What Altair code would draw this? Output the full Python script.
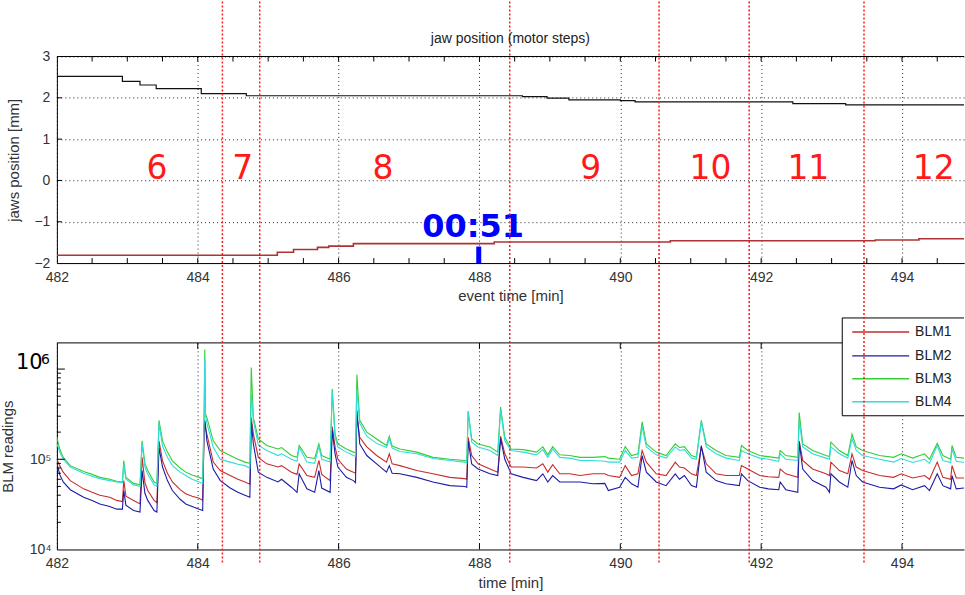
import altair as alt
import pandas as pd

# ---------------- data ----------------
X_DOMAIN = [482, 494.88]
x_ticks = [482, 484, 486, 488, 490, 492, 494]

# jaw positions (top panel)
upper_t = [482.0, 482.93, 483.18, 483.41, 484.05, 484.69, 488.61, 488.96, 489.27, 490.0, 490.21, 492.45, 493.2, 494.88]
upper_v = [2.52, 2.40, 2.31, 2.22, 2.10, 2.05, 2.03, 1.99, 1.95, 1.93, 1.90, 1.86, 1.83, 1.83]
lower_t = [482.0, 485.13, 485.36, 485.70, 485.86, 486.21, 488.21, 490.71, 493.62, 494.24, 494.88]
lower_v = [-1.81, -1.74, -1.67, -1.62, -1.59, -1.53, -1.49, -1.46, -1.44, -1.41, -1.41]

# step boundaries and labels
boundaries = [484.35, 484.88, 488.43, 490.55, 491.83, 493.46]
step_labels = ["6", "7", "8", "9", "10", "11", "12"]
step_label_t = [483.42, 484.64, 486.63, 489.58, 491.28, 492.67, 494.45]

# BLM readings (bottom panel)
blm_t = [
    482.00, 482.04, 482.09, 482.19, 482.38, 482.50, 482.61, 482.75, 482.85, 482.93,
    482.95, 482.98, 483.09, 483.18, 483.21, 483.25, 483.29, 483.38, 483.42, 483.45,
    483.50, 483.57, 483.64, 483.75, 483.83, 483.92, 484.02, 484.07, 484.09, 484.10,
    484.11, 484.13, 484.22, 484.32, 484.46, 484.57, 484.67, 484.74, 484.76, 484.79,
    484.86, 484.98, 485.14, 485.19, 485.33, 485.41, 485.44, 485.55, 485.66, 485.72,
    485.76, 485.88, 485.91, 485.95, 485.99, 486.11, 486.21, 486.24, 486.26, 486.30,
    486.40, 486.54, 486.68, 486.72, 486.76, 486.87, 487.11, 487.34, 487.58, 487.79,
    487.82, 487.84, 487.89, 487.98, 488.15, 488.26, 488.30, 488.36, 488.45, 488.62,
    488.81, 488.90, 488.97, 489.04, 489.14, 489.28, 489.43, 489.61, 489.78, 489.83,
    489.99, 490.07, 490.16, 490.25, 490.31, 490.37, 490.51, 490.65, 490.78, 490.84,
    490.91, 491.01, 491.08, 491.15, 491.22, 491.36, 491.50, 491.69, 491.72, 491.81,
    491.98, 492.10, 492.25, 492.27, 492.35, 492.52, 492.54, 492.59, 492.73, 492.92,
    492.97, 492.99, 493.11, 493.23, 493.29, 493.35, 493.44, 493.68, 493.88, 493.99,
    494.15, 494.32, 494.39, 494.50, 494.58, 494.69, 494.71, 494.77, 494.88,
]
blm1 = [  # red
    1.0e5, 8.5e4, 7.2e4, 5.8e4, 4.7e4, 4.3e4, 4.0e4, 3.8e4, 3.5e4, 3.4e4,
    5.8e4, 3.9e4, 3.5e4, 3.2e4, 1.05e5, 5.5e4, 4.5e4, 3.5e4, 3.3e4, 1.6e5,
    9.6e4, 7.0e4, 5.6e4, 4.6e4, 4.15e4, 3.9e4, 3.7e4, 3.5e4, 2.0e5, 2.5e5,
    2.2e5, 1.9e5, 9.3e4, 7.5e4, 6.6e4, 6.0e4, 5.6e4, 5.3e4, 2.9e5, 1.9e5,
    1.05e5, 8.9e4, 8.2e4, 8.5e4, 7.2e4, 6.8e4, 8.9e4, 6.6e4, 6.3e4, 9.7e4,
    6.8e4, 5.8e4, 2.3e5, 1.37e5, 1.0e5, 7.8e4, 7.2e4, 7.0e4, 3.0e5, 1.75e5,
    1.37e5, 1.1e5, 9.3e4, 1.15e5, 8.9e4, 8.5e4, 7.5e4, 6.9e4, 6.3e4, 6.1e4,
    6.0e4, 1.75e5, 1.1e5, 8.9e4, 7.8e4, 7.2e4, 1.8e5, 1.15e5, 8.2e4, 8.2e4,
    8.0e4, 8.9e4, 7.2e4, 8.7e4, 6.9e4, 6.9e4, 6.6e4, 6.9e4, 6.9e4, 6.6e4,
    6.3e4, 8.5e4, 6.6e4, 6.9e4, 1.25e5, 9.3e4, 6.9e4, 6.6e4, 9.3e4, 8.2e4,
    8.0e4, 6.9e4, 6.6e4, 1.37e5, 8.9e4, 6.9e4, 6.6e4, 6.6e4, 8.5e4, 7.8e4,
    6.6e4, 6.4e4, 6.3e4, 7.8e4, 6.9e4, 6.3e4, 1.6e5, 9.7e4, 7.8e4, 6.9e4,
    6.6e4, 9.3e4, 7.5e4, 6.9e4, 1.15e5, 8.2e4, 7.5e4, 6.6e4, 6.3e4, 6.9e4,
    6.2e4, 6.6e4, 6.0e4, 9.3e4, 6.3e4, 6.0e4, 8.5e4, 6.2e4, 6.2e4,
]
blm2 = [  # blue
    9.0e4, 6.8e4, 5.6e4, 4.6e4, 3.8e4, 3.5e4, 3.2e4, 3.0e4, 2.8e4, 2.8e4,
    4.5e4, 3.1e4, 2.7e4, 2.6e4, 7.5e4, 4.2e4, 3.5e4, 2.7e4, 2.6e4, 1.35e5,
    8.2e4, 5.8e4, 4.5e4, 3.6e4, 3.2e4, 3.0e4, 2.8e4, 2.7e4, 2.2e5, 2.7e5,
    2.4e5, 1.6e5, 7.8e4, 5.8e4, 4.8e4, 4.3e4, 4.0e4, 3.8e4, 2.6e5, 1.48e5,
    7.2e4, 6.3e4, 5.6e4, 6.0e4, 4.9e4, 4.3e4, 6.9e4, 4.7e4, 4.3e4, 7.5e4,
    4.8e4, 4.3e4, 2.1e5, 1.15e5, 8.2e4, 6.3e4, 5.8e4, 5.5e4, 3.5e5, 1.48e5,
    1.1e5, 8.9e4, 7.2e4, 8.5e4, 7.0e4, 6.9e4, 6.3e4, 5.6e4, 5.1e4, 5.0e4,
    4.9e4, 1.6e5, 8.9e4, 7.8e4, 6.9e4, 6.6e4, 1.7e5, 1.0e5, 6.9e4, 6.3e4,
    5.8e4, 6.9e4, 5.6e4, 6.6e4, 5.6e4, 5.6e4, 5.6e4, 5.35e4, 5.4e4, 4.5e4,
    4.9e4, 6.3e4, 5.35e4, 4.9e4, 1.1e5, 7.2e4, 5.6e4, 5.1e4, 6.9e4, 6.0e4,
    6.6e4, 5.1e4, 4.9e4, 1.42e5, 7.2e4, 5.8e4, 5.35e4, 5.1e4, 6.9e4, 5.8e4,
    4.9e4, 4.7e4, 4.6e4, 5.6e4, 4.6e4, 4.3e4, 1.55e5, 7.8e4, 5.8e4, 4.9e4,
    4.3e4, 6.9e4, 5.6e4, 4.9e4, 9.7e4, 6.6e4, 5.6e4, 4.9e4, 4.7e4, 5.2e4,
    4.6e4, 5.1e4, 4.5e4, 6.9e4, 5.1e4, 4.7e4, 6.6e4, 4.7e4, 4.8e4,
]
blm3 = [  # green
    1.75e5, 1.3e5, 1.05e5, 8.5e4, 7.3e4, 6.8e4, 6.3e4, 6.0e4, 5.7e4, 5.6e4,
    9.7e4, 6.3e4, 5.4e4, 5.2e4, 1.6e5, 9.0e4, 7.5e4, 5.6e4, 5.4e4, 2.7e5,
    1.6e5, 1.2e5, 9.6e4, 8.0e4, 7.2e4, 6.7e4, 6.3e4, 6.1e4, 3.0e5, 1.65e6,
    3.2e5, 2.9e5, 1.6e5, 1.25e5, 1.1e5, 1.0e5, 9.3e4, 9.0e4, 1.04e6, 2.9e5,
    1.68e5, 1.42e5, 1.3e5, 1.35e5, 1.1e5, 1.05e5, 1.42e5, 1.05e5, 1.02e5, 1.48e5,
    1.1e5, 1.0e5, 6.0e5, 1.9e5, 1.48e5, 1.3e5, 1.2e5, 1.18e5, 8.7e5, 2.7e5,
    2.0e5, 1.68e5, 1.42e5, 1.8e5, 1.4e5, 1.3e5, 1.2e5, 1.05e5, 1.0e5, 9.7e4,
    9.5e4, 3.4e5, 1.68e5, 1.48e5, 1.37e5, 1.2e5, 3.8e5, 1.75e5, 1.3e5, 1.28e5,
    1.2e5, 1.37e5, 1.12e5, 1.38e5, 1.12e5, 1.1e5, 1.05e5, 1.05e5, 1.07e5, 1.03e5,
    1.0e5, 1.38e5, 1.1e5, 1.15e5, 2.6e5, 1.48e5, 1.2e5, 1.1e5, 1.48e5, 1.35e5,
    1.38e5, 1.1e5, 1.05e5, 2.7e5, 1.48e5, 1.25e5, 1.1e5, 1.05e5, 1.42e5, 1.25e5,
    1.1e5, 1.07e5, 1.03e5, 1.25e5, 1.1e5, 1.05e5, 3.3e5, 1.48e5, 1.25e5, 1.1e5,
    1.07e5, 1.55e5, 1.25e5, 1.1e5, 1.9e5, 1.37e5, 1.25e5, 1.1e5, 1.05e5, 1.15e5,
    1.03e5, 1.15e5, 1.0e5, 1.5e5, 1.1e5, 1.0e5, 1.42e5, 1.05e5, 1.03e5,
]
blm4 = [  # cyan
    1.5e5, 1.2e5, 1.0e5, 8.2e4, 7.0e4, 6.5e4, 6.1e4, 5.8e4, 5.6e4, 5.5e4,
    8.8e4, 6.0e4, 5.2e4, 5.0e4, 1.5e5, 8.2e4, 6.8e4, 5.2e4, 5.0e4, 2.5e5,
    1.4e5, 1.05e5, 8.5e4, 7.2e4, 6.6e4, 6.0e4, 5.6e4, 5.4e4, 2.8e5, 1.3e6,
    3.0e5, 2.5e5, 1.36e5, 1.0e5, 9.3e4, 8.8e4, 8.5e4, 8.0e4, 5.3e5, 2.7e5,
    1.43e5, 1.25e5, 1.1e5, 1.15e5, 1.0e5, 9.5e4, 1.35e5, 9.3e4, 9.0e4, 1.4e5,
    1.0e5, 9.3e4, 5.6e5, 1.75e5, 1.37e5, 1.2e5, 1.1e5, 1.08e5, 6.0e5, 2.5e5,
    1.8e5, 1.5e5, 1.35e5, 1.7e5, 1.33e5, 1.22e5, 1.15e5, 1.02e5, 9.7e4, 9.3e4,
    9.1e4, 3.4e5, 1.55e5, 1.37e5, 1.25e5, 1.1e5, 3.5e5, 1.6e5, 1.25e5, 1.2e5,
    1.12e5, 1.28e5, 1.05e5, 1.3e5, 1.05e5, 1.03e5, 9.7e4, 9.7e4, 9.5e4, 9.3e4,
    9.3e4, 1.25e5, 1.03e5, 1.05e5, 2.3e5, 1.37e5, 1.12e5, 1.03e5, 1.37e5, 1.25e5,
    1.28e5, 1.03e5, 1.0e5, 2.6e5, 1.37e5, 1.15e5, 1.03e5, 9.7e4, 1.25e5, 1.15e5,
    1.03e5, 1.0e5, 9.5e4, 1.15e5, 1.0e5, 9.7e4, 2.7e5, 1.37e5, 1.15e5, 1.03e5,
    1.0e5, 1.37e5, 1.15e5, 1.03e5, 1.7e5, 1.25e5, 1.1e5, 1.0e5, 9.3e4, 1.02e5,
    9.2e4, 1.0e5, 9.0e4, 1.42e5, 9.7e4, 9.2e4, 1.3e5, 9.5e4, 9.2e4,
]
blm_names = ["BLM1", "BLM2", "BLM3", "BLM4"]
blm_colors = ["#c62c2c", "#1c1ca6", "#35cc35", "#30dcdc"]

# ---------------- layout constants ----------------
W, H = 909, 207
FONT = "Liberation Sans"
BIG = "DejaVu Sans"

one = pd.DataFrame({"k": [0]})

# ---------------- top panel ----------------
xs_top = alt.Scale(domain=X_DOMAIN, nice=False, zero=False)

upper = alt.Chart(pd.DataFrame({"t": upper_t, "v": upper_v})).mark_line(
    interpolate="step-after", clip=True, color="#111111", strokeWidth=1.2).encode(
    x=alt.X("t:Q", scale=xs_top,
            axis=alt.Axis(values=x_ticks, format="d", grid=True, labelFlush=False,
                          title="event time [min]", labelPadding=7, titlePadding=5)),
    y=alt.Y("v:Q", scale=alt.Scale(domain=[-2, 3], nice=False, zero=False),
            axis=alt.Axis(values=[-2, -1, 0, 1, 2, 3], grid=True, title="jaws position [mm]",
                          labelPadding=7, titlePadding=12)),
)
lower = alt.Chart(pd.DataFrame({"t": lower_t, "v": lower_v})).mark_line(
    interpolate="step-after", clip=True, color="#ad3434", strokeWidth=1.6).encode(
    x="t:Q", y="v:Q")

top_minor = pd.DataFrame({"t": [482.5 + 0.5 * i for i in range(25)]})
top_ticks_b = alt.Chart(top_minor).mark_rule(color="black").encode(
    x="t:Q", y=alt.value(H), y2=alt.value(H - 5))
top_ticks_t = alt.Chart(top_minor).mark_rule(color="black").encode(
    x="t:Q", y=alt.value(0), y2=alt.value(5))
top_yt = alt.Chart(pd.DataFrame({"v": [-1, 0, 1, 2]})).mark_rule(color="black").encode(
    y="v:Q", x=alt.value(0), x2=alt.value(5))
top_border = alt.Chart(one).mark_rule(color="black").encode(
    x=alt.value(0), x2=alt.value(W), y=alt.value(0))

labels = alt.Chart(pd.DataFrame({"t": step_label_t, "lab": step_labels, "v": [0.03] * 7})).mark_text(
    font=BIG, fontSize=33, color="#ff1a1a", baseline="alphabetic", align="center"
).encode(x="t:Q", y="v:Q", text="lab:N")

time_txt = alt.Chart(pd.DataFrame({"t": [487.91], "v": [-1.36], "s": ["00:51"]})).mark_text(
    font=BIG, fontSize=32, fontWeight="bold", color="#0000ff", baseline="alphabetic", align="center"
).encode(x="t:Q", y="v:Q", text="s:N")

time_tick = alt.Chart(pd.DataFrame({"t": [487.99], "v": [-1.6], "v2": [-2.0]})).mark_rule(
    color="#0000ff", strokeWidth=5).encode(x="t:Q", y="v:Q", y2="v2:Q")

bnd_df = pd.DataFrame({"t": boundaries})
top_bnd = alt.Chart(bnd_df).mark_rule(color="#ff1a1a", strokeWidth=1.5, strokeDash=[2, 2]).encode(
    x="t:Q", y=alt.value(-55), y2=alt.value(243))

top_title = alt.Chart(pd.DataFrame({"s": ["jaw position (motor steps)"]})).mark_text(
    font=FONT, fontSize=14, color="#222", baseline="middle", align="center"
).encode(x=alt.value(W / 2), y=alt.value(-18), text="s:N")

anchor = alt.Chart(one).mark_rule(strokeOpacity=0).encode(
    x=alt.value(-55), y=alt.value(0), y2=alt.value(1))

top = alt.layer(upper, lower, top_ticks_b, top_ticks_t, top_yt, top_border, labels, time_tick,
                time_txt, top_bnd, top_title, anchor).properties(width=W, height=H)

# ---------------- bottom panel ----------------
blm_df = pd.concat([pd.DataFrame({"t": blm_t, "v": vals, "s": name})
                    for name, vals in zip(blm_names, [blm1, blm2, blm3, blm4])])

lines = alt.Chart(blm_df).mark_line(strokeWidth=1.1, clip=True).encode(
    x=alt.X("t:Q", scale=alt.Scale(domain=X_DOMAIN, nice=False, zero=False),
            axis=alt.Axis(values=x_ticks, format="d", grid=True, labelFlush=False,
                          title="time [min]", labelPadding=7, titlePadding=5)),
    y=alt.Y("v:Q", scale=alt.Scale(type="log", domain=[1e4, 1.95e6], nice=False),
            axis=alt.Axis(values=[1e4, 1e5, 1e6], grid=False, title="BLM readings",
                          labelExpr="datum.value < 5e4 ? '10⁴' : (datum.value < 5e5 ? '10⁵' : '')",
                          labelPadding=6, titlePadding=14)),
    color=alt.Color("s:N", scale=alt.Scale(domain=blm_names, range=blm_colors), legend=None),
)

maj = pd.DataFrame({"t": [484, 486, 488, 490, 492, 494]})
b_xt_b = alt.Chart(maj).mark_rule(color="black").encode(x="t:Q", y=alt.value(H), y2=alt.value(H - 6))
b_xt_t = alt.Chart(maj).mark_rule(color="black").encode(x="t:Q", y=alt.value(0), y2=alt.value(6))
ymaj = alt.Chart(pd.DataFrame({"v": [1e5, 1e6]})).mark_rule(color="black").encode(
    y="v:Q", x=alt.value(0), x2=alt.value(8))
ymin = alt.Chart(pd.DataFrame({"v": [m * 1e4 for m in range(2, 10)] + [m * 1e5 for m in range(2, 10)]})
                 ).mark_rule(color="black").encode(y="v:Q", x=alt.value(0), x2=alt.value(4))
b_border = alt.Chart(one).mark_rule(color="black").encode(x=alt.value(0), x2=alt.value(W), y=alt.value(0))

# legend box (drawn by hand)
LX0, LX1, LY0, LY1 = 787, 909, -25, 73
leg_box = alt.Chart(one).mark_rect(fill="white").encode(
    x=alt.value(LX0), x2=alt.value(LX1), y=alt.value(LY0), y2=alt.value(LY1))
leg_edges = [
    alt.Chart(one).mark_rule(color="black").encode(x=alt.value(LX0), x2=alt.value(LX1), y=alt.value(LY0)),
    alt.Chart(one).mark_rule(color="black").encode(x=alt.value(LX0), x2=alt.value(LX1), y=alt.value(LY1)),
    alt.Chart(one).mark_rule(color="black").encode(x=alt.value(LX0), y=alt.value(LY0), y2=alt.value(LY1)),
]
row_y = [-11, 13, 36, 59]
leg_items = []
for name, col, ry in zip(blm_names, blm_colors, row_y):
    leg_items.append(alt.Chart(one).mark_rule(color=col, strokeWidth=1.5).encode(
        x=alt.value(797), x2=alt.value(854), y=alt.value(ry)))
    leg_items.append(alt.Chart(pd.DataFrame({"s": [name]})).mark_text(
        font=FONT, fontSize=14, color="#222", align="left", baseline="middle").encode(
        x=alt.value(860), y=alt.value(ry), text="s:N"))

bot_bnd = alt.Chart(bnd_df).mark_rule(color="#ff1a1a", strokeWidth=1.5, strokeDash=[2, 2]).encode(
    x="t:Q", y=alt.value(-42), y2=alt.value(221))

big10 = alt.Chart(pd.DataFrame({"s": ["10"]})).mark_text(
    font=BIG, fontSize=21, color="black", align="left", baseline="alphabetic").encode(
    x=alt.value(-41), y=alt.value(26), text="s:N")
big6 = alt.Chart(pd.DataFrame({"s": ["6"]})).mark_text(
    font=BIG, fontSize=14, color="black", align="left", baseline="alphabetic").encode(
    x=alt.value(-16), y=alt.value(21), text="s:N")

bottom = alt.layer(lines, b_xt_b, b_xt_t, ymaj, ymin, b_border, leg_box, *leg_edges, *leg_items,
                   bot_bnd, big10, big6).properties(width=W, height=H)

chart = alt.vconcat(top, bottom, spacing=80, bounds="flush").resolve_scale(
    color="independent"
).properties(
    padding={"left": 0, "top": 0, "right": 0, "bottom": 0}
).configure_view(stroke=None).configure_axis(
    labelFont=FONT, labelFontSize=14, labelColor="#333",
    titleFont=FONT, titleFontSize=15, titleFontWeight="normal", titleColor="#333",
    domainColor="#000", domainWidth=1, ticks=False,
    gridColor="#000", gridDash=[1, 3], gridOpacity=0.85, gridWidth=1,
)

chart.save("out.html", embed_options={"renderer": "svg", "actions": False})
